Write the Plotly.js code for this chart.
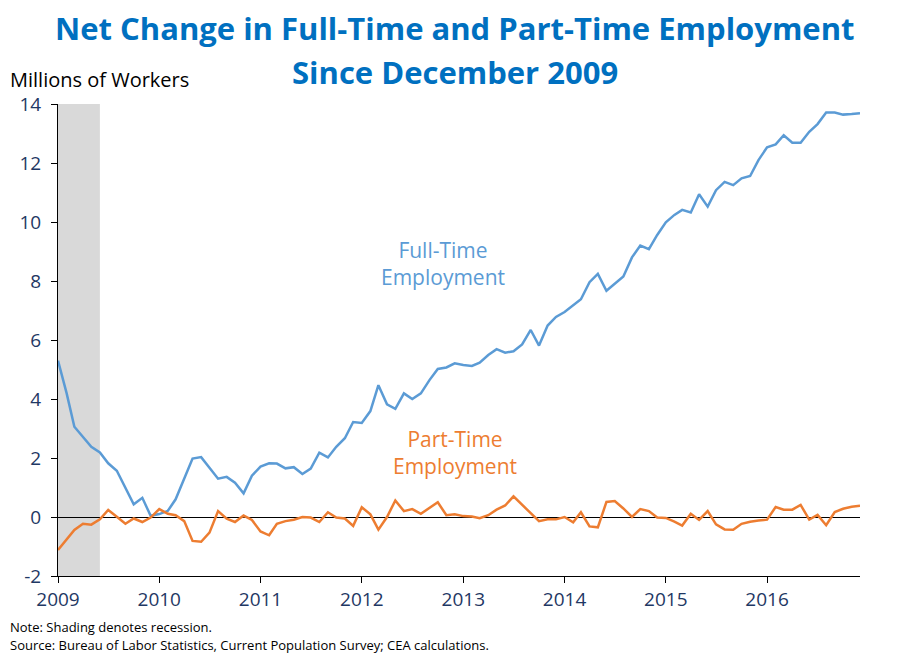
<!DOCTYPE html>
<html>
<head>
<meta charset="utf-8">
<script src="https://cdn.plot.ly/plotly-3.0.1.min.js"></script>
<style>body{margin:0;background:#fff;}#chart{width:910px;height:661px;}</style>
</head>
<body>
<div id="chart"></div>
<script>
// Monthly, Jan 2009 - Dec 2016 (millions of workers, net change since Dec 2009)
const startYear = 2009;
const fullTime = [
 5.3, 4.2, 3.06, 2.7, 2.38, 2.19, 1.82, 1.57, 1.0, 0.43, 0.65, 0.04,
 0.1, 0.21, 0.6, 1.3, 1.98, 2.03, 1.65, 1.3, 1.36, 1.16, 0.8, 1.4,
 1.71, 1.82, 1.81, 1.65, 1.69, 1.46, 1.64, 2.18, 2.02, 2.38, 2.67, 3.22,
 3.19, 3.59, 4.47, 3.82, 3.67, 4.19, 4.0, 4.19, 4.64, 5.02, 5.07, 5.21,
 5.15, 5.12, 5.23, 5.49, 5.69, 5.57, 5.62, 5.85, 6.34, 5.81, 6.49, 6.78,
 6.95, 7.19, 7.38, 7.96, 8.24, 7.67, 7.92, 8.15, 8.8, 9.2, 9.08, 9.56,
 9.99, 10.24, 10.41, 10.32, 10.94, 10.52, 11.08, 11.36, 11.25, 11.48, 11.56, 12.1,
 12.53, 12.63, 12.94, 12.69, 12.69, 13.06, 13.32, 13.71, 13.71, 13.64, 13.66, 13.69
];
const partTime = [
 -1.12, -0.76, -0.44, -0.23, -0.26, -0.08, 0.24, 0.01, -0.23, -0.05, -0.17, -0.02,
 0.27, 0.11, 0.06, -0.14, -0.81, -0.84, -0.53, 0.2, -0.06, -0.17, 0.05, -0.1,
 -0.49, -0.62, -0.23, -0.14, -0.09, 0.0, -0.02, -0.17, 0.16, -0.02, -0.05, -0.3,
 0.33, 0.09, -0.43, 0.0, 0.56, 0.2, 0.27, 0.11, 0.31, 0.5, 0.06, 0.09,
 0.03, 0.02, -0.04, 0.06, 0.25, 0.39, 0.7, 0.43, 0.13, -0.14, -0.08, -0.08,
 0.0, -0.18, 0.16, -0.32, -0.35, 0.51, 0.54, 0.29, 0.0, 0.27, 0.2, -0.02,
 -0.03, -0.16, -0.29, 0.11, -0.1, 0.2, -0.25, -0.42, -0.43, -0.23, -0.16, -0.12,
 -0.09, 0.34, 0.25, 0.25, 0.41, -0.09, 0.07, -0.28, 0.17, 0.28, 0.35, 0.38
];
const yearTicks = ['2009','2010','2011','2012','2013','2014','2015','2016'];
const yTicks = [-2, 0, 2, 4, 6, 8, 10, 12, 14];
const recessionStart = '2009-01-01';
const recessionEnd = '2009-06-01';
const titleLines = ['Net Change in Full-Time and Part-Time Employment', 'Since December 2009'];

const months = fullTime.map((_, i) => {
  const y = startYear + Math.floor(i / 12);
  const m = (i % 12) + 1;
  return y + '-' + String(m).padStart(2, '0') + '-01';
});

const tickColor = '#1F3864';
const traces = [
  {x: months, y: fullTime, type: 'scatter', mode: 'lines', name: 'Full-Time Employment',
   line: {color: '#5B9BD5', width: 2.5}, hoverinfo: 'x+y'},
  {x: months, y: partTime, type: 'scatter', mode: 'lines', name: 'Part-Time Employment',
   line: {color: '#ED7D31', width: 2.5}, hoverinfo: 'x+y'}
];

const titleFont = {size: 31, color: '#0070C0', family: 'Open Sans, sans-serif'};

const layout = {
  width: 910, height: 661,
  margin: {l: 58, r: 50, t: 104, b: 85},
  paper_bgcolor: '#fff', plot_bgcolor: '#fff',
  showlegend: false,
  font: {family: 'Open Sans, sans-serif', color: tickColor},
  xaxis: {
    type: 'date',
    range: [months[0], months[months.length - 1]],
    tickvals: yearTicks.map(y => y + '-01-01'),
    ticktext: yearTicks,
    showgrid: false, zeroline: false,
    showline: true, linecolor: '#000', linewidth: 1,
    ticks: 'outside', ticklen: 6, tickcolor: '#000',
    tickfont: {size: 19, color: tickColor}
  },
  yaxis: {
    range: [-2, 14], tickvals: yTicks, ticktext: yTicks.map(String),
    showgrid: false, zeroline: true, zerolinecolor: '#000', zerolinewidth: 1,
    showline: true, linecolor: '#000', linewidth: 1,
    ticks: 'outside', ticklen: 6, tickcolor: '#000', ticklabelstandoff: 6,
    tickfont: {size: 19, color: tickColor}
  },
  shapes: [
    {type: 'rect', xref: 'x', yref: 'y', x0: recessionStart, x1: recessionEnd, y0: -2, y1: 14,
     fillcolor: '#D9D9D9', line: {width: 0}, layer: 'below'}
  ],
  annotations: [
    {text: '<b>' + titleLines[0] + '</b>', xref: 'paper', yref: 'paper', x: 0.495, y: 1.161,
     xanchor: 'center', yanchor: 'middle', showarrow: false, font: titleFont},
    {text: '<b>' + titleLines[1] + '</b>', xref: 'paper', yref: 'paper', x: 0.495, y: 1.068,
     xanchor: 'center', yanchor: 'middle', showarrow: false, font: titleFont},
    {text: 'Millions of Workers', xref: 'paper', yref: 'paper', x: -0.062, y: 1.051,
     xanchor: 'left', yanchor: 'middle', showarrow: false, font: {size: 20, color: '#000'}},
    {text: 'Full-Time<br>Employment', xref: 'x', yref: 'y', x: '2012-10-20', y: 8.6,
     showarrow: false, font: {size: 21, color: '#5B9BD5'}, align: 'center'},
    {text: 'Part-Time<br>Employment', xref: 'x', yref: 'y', x: '2012-12-01', y: 2.2,
     showarrow: false, font: {size: 21, color: '#ED7D31'}, align: 'center'},
    {text: 'Note: Shading denotes recession.', xref: 'paper', yref: 'paper', x: -0.062, y: -0.108,
     xanchor: 'left', yanchor: 'middle', showarrow: false, font: {size: 13, color: '#000'}},
    {text: 'Source: Bureau of Labor Statistics, Current Population Survey; CEA calculations.', xref: 'paper', yref: 'paper', x: -0.062, y: -0.146,
     xanchor: 'left', yanchor: 'middle', showarrow: false, font: {size: 13, color: '#000'}}
  ]
};

Plotly.newPlot('chart', traces, layout, {displayModeBar: false, staticPlot: true});
</script>
</body>
</html>
